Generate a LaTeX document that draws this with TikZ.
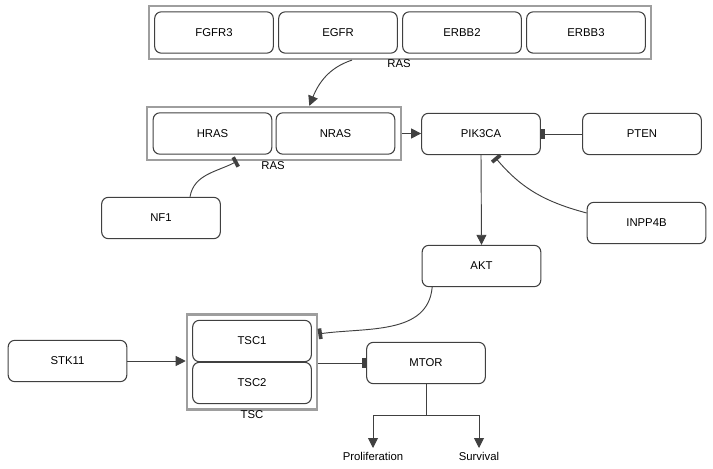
\documentclass[tikz,border=0pt]{standalone}
\usepackage{fontspec}
\setmainfont{Liberation Sans}
\usetikzlibrary{arrows.meta, calc, fit}
\definecolor{edge}{HTML}{404040}
\tikzset{
  gene/.style = {draw=edge, line width=0.8pt, rounded corners=5pt,
                 minimum width=89pt, minimum height=31pt, inner sep=0pt,
                 font=\fontsize{8.5}{10}\selectfont},
  grp/.style  = {draw=black!38, line width=1.6pt, inner sep=4pt},
  act/.style  = {-{Triangle[length=7.5pt, width=7.5pt]}, edge, line width=0.7pt},
  inh/.style  = {-{Bar[width=8pt, line width=2.8pt]}, edge, line width=0.7pt},
  lbl/.style  = {font=\fontsize{8.5}{10}\selectfont, inner sep=3pt},
}

\begin{document}
\begin{tikzpicture}[x=0.75pt, y=0.75pt]
  \useasboundingbox (0,0) rectangle (713,468);
  % receptor group
  \node[gene] (fgfr3) at (214,435.5) {FGFR3};
  \node[gene] (egfr)  at (338,435.5) {EGFR};
  \node[gene] (erbb2) at (462,435.5) {ERBB2};
  \node[gene] (erbb3) at (586,435.5) {ERBB3};
  \node[grp, fit=(fgfr3)(erbb3)] (rtk) {};
  \node[lbl] (rtklbl) at (399,404) {RAS};
  % ras group
  \node[gene] (hras) at (212.5,334.5) {HRAS};
  \node[gene] (nras) at (335.5,334.5) {NRAS};
  \node[grp, fit=(hras)(nras)] (ras) {};
  \node[lbl] (raslbl) at (273,302) {RAS};
  \node[gene] (nf1) at (161,250) {NF1};
  % pi3k branch
  \node[gene] (pik3ca) at (481,334) {PIK3CA};
  \node[gene] (pten)   at (642,334) {PTEN};
  \node[gene] (inpp4b) at (646.5,245) {INPP4B};
  \node[gene] (akt)    at (481.5,202) {AKT};
  % tsc complex
  \node[gene] (tsc1) at (252,127) {TSC1};
  \node[gene] (tsc2) at (252,85) {TSC2};
  \node[grp, fit=(tsc1)(tsc2)] (tsc) {};
  \node[lbl] (tsclbl) at (252,53) {TSC};
  \node[gene] (stk11) at (67.5,107) {STK11};
  \node[gene] (mtor)  at (426,105) {MTOR};
  \node[lbl, anchor=north] (prolif) at (373,20) {Proliferation};
  \node[lbl, anchor=north] (surv)   at (479,20) {Survival};

  \draw[act] ([xshift=-36pt]rtk.south) to[out=198, in=68] ([xshift=26.5pt]ras.north);
  \draw[act] (ras.east) -- (ras.east -| pik3ca.west);
  \draw[inh] ([xshift=21.75pt]nf1.north) to[out=80, in=208] ([xshift=-27.5pt]ras.south);
  \draw[inh] (pten.west) -- (pik3ca.east);
  \draw[inh] ([yshift=7.5pt]inpp4b.west) to[out=165, in=-50] ([xshift=10.5pt, yshift=-1.5pt]pik3ca.south);
  \draw[act] (pik3ca.south) -- (akt.north);
  \draw[inh] ([xshift=-37pt]akt.south) to[out=-95, in=8] ([yshift=21pt]tsc.east);
  \draw[act] (stk11.east) -- (stk11.east -| tsc.west);
  \draw[inh] (tsc.east |- mtor.west) -- (mtor.west);
  \draw[edge, line width=0.7pt] (mtor.south) -- ++(0,-31) coordinate (split);
  \draw[edge, line width=0.7pt] (split -| prolif) -- (split -| surv);
  \draw[act] (split -| prolif) -- (prolif.north);
  \draw[act] (split -| surv) -- (surv.north);
\end{tikzpicture}
\end{document}
